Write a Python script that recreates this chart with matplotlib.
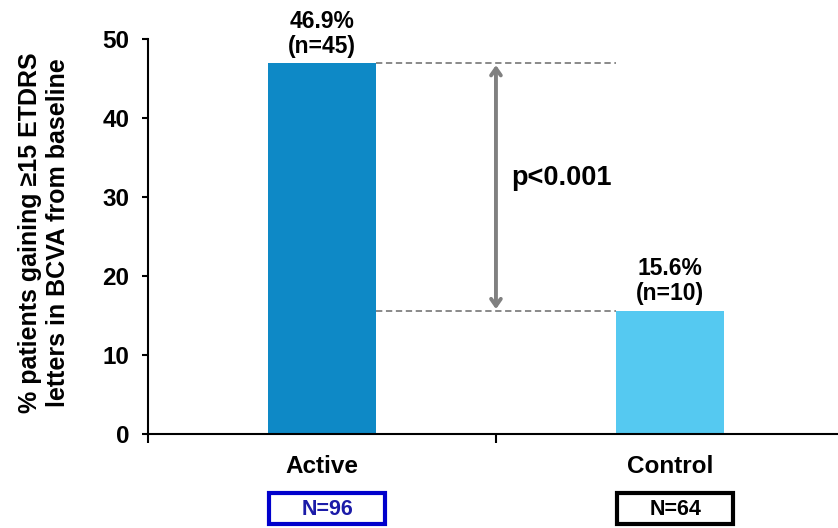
import matplotlib
matplotlib.use("Agg")
import matplotlib.pyplot as plt
from matplotlib.patches import Rectangle
import matplotlib.transforms as mtransforms

plt.rcParams['font.family'] = ['Liberation Sans', 'DejaVu Sans']
plt.rcParams['font.weight'] = 'bold'

groups = ['Active', 'Control']
pct = [46.9, 15.6]
responders = [45, 10]
totals = [96, 64]
bar_colors = ['#0E89C6', '#55C9F1']
box_edges = ['#0000CC', '#000000']
box_text = ['#1B1BA8', '#000000']
p_text = 'p<0.001'

fig = plt.figure(figsize=(8.38, 5.28), dpi=100)
ax = fig.add_axes([148 / 838, 94 / 528, 690 / 838, 395 / 528])

x = list(range(len(groups)))
width = 0.31
bars = ax.bar(x, pct, width=width, color=bar_colors, zorder=2)

# value labels above bars
for xi, v, n in zip(x, pct, responders):
    ax.annotate(f'{v}%\n(n={n})', (xi, v), xytext=(0, 4), textcoords='offset points',
                ha='center', va='bottom', fontsize=16.5, fontweight='bold',
                linespacing=1.1, annotation_clip=False)

# dashed reference lines between bar tops
left_edge = x[0] + width / 2
right_edge = x[1] - width / 2
for v in pct:
    ax.plot([left_edge, right_edge], [v, v], ls=(0, (3.5, 2)), color='#808080', lw=1.3, zorder=1)

ax.annotate('', xy=(0.5, pct[0] - 0.2), xytext=(0.5, pct[1] + 0.2),
            arrowprops=dict(arrowstyle='<->,head_length=0.5,head_width=0.35',
                            color='#808080', lw=2.8, shrinkA=0, shrinkB=0))
ax.text(0.545, 32.4, p_text, fontsize=19.5, fontweight='bold', va='center', ha='left')

ax.set_ylim(0, 50)
ax.set_xlim(-0.5, 1.483)
ax.set_yticks(range(0, 51, 10))
ax.tick_params(axis='y', labelsize=17.5, length=4.5, width=1.5, pad=9)
ax.set_xticks([-0.5, 0.5])
ax.set_xticklabels([])
ax.tick_params(axis='x', length=6.5, width=1.5)
for lbl in ax.get_yticklabels():
    lbl.set_fontweight('bold')

for s in ['top', 'right']:
    ax.spines[s].set_visible(False)
for s in ['left', 'bottom']:
    ax.spines[s].set_linewidth(1.5)

ax.set_ylabel('% patients gaining \u226515 ETDRS\nletters in BCVA from baseline',
              fontsize=18, fontweight='bold', linespacing=1.2)
ax.yaxis.set_label_coords(-0.113, 0.51)

# group names and N boxes under the axis
trans = mtransforms.blended_transform_factory(ax.transData, ax.transAxes)
for xi, g, n, ec, tc in zip(x, groups, totals, box_edges, box_text):
    ax.text(xi, -0.083, g, transform=trans, ha='center', va='center',
            fontsize=17.5, fontweight='bold')
    bw = 0.335
    ax.add_patch(Rectangle((xi - bw / 2 + 0.015, -0.229), bw, 0.079, transform=trans,
                           fill=False, edgecolor=ec, lw=3, clip_on=False))
    ax.text(xi + 0.015, -0.19, f'N={n}', transform=trans, ha='center', va='center',
            fontsize=15.5, fontweight='bold', color=tc)

fig.savefig('out.png', dpi=100)
